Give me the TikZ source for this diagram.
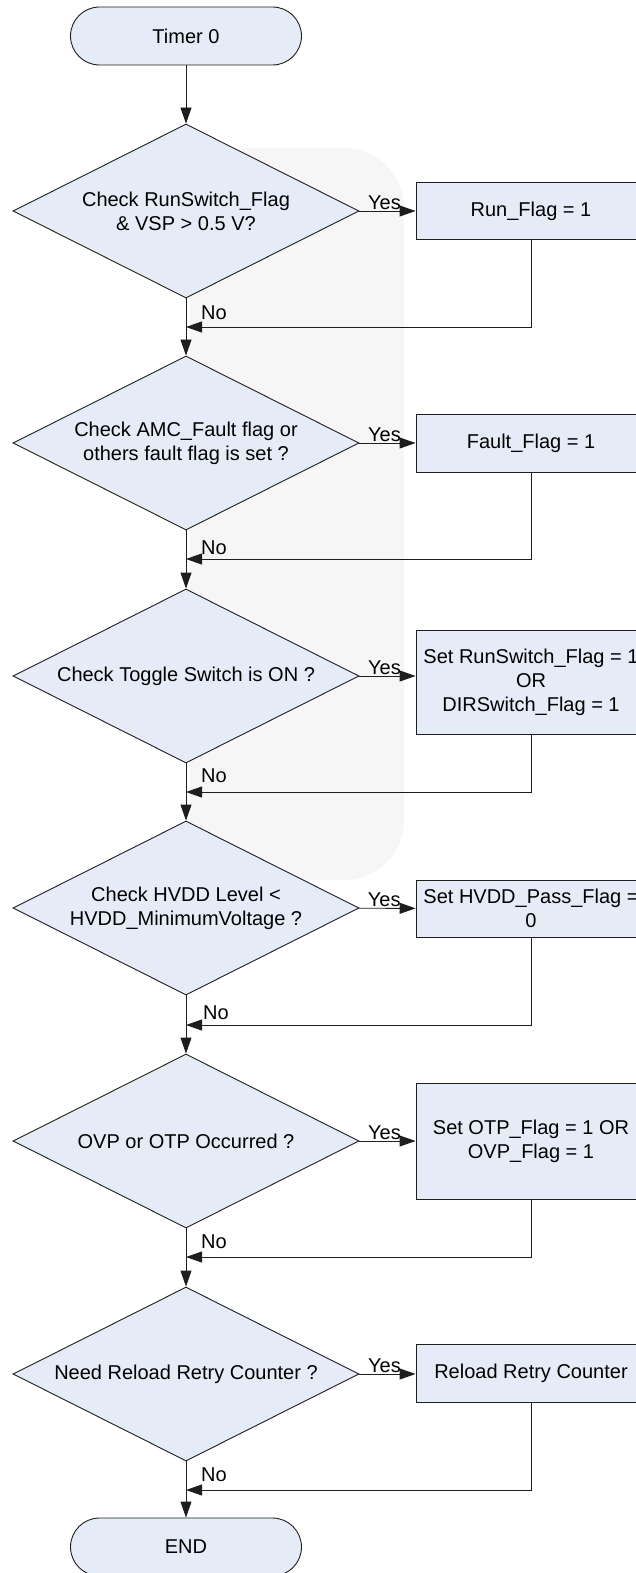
\documentclass[tikz,border=0pt]{standalone}
\usepackage{fontspec}
\setmainfont{Liberation Sans}
\usetikzlibrary{arrows.meta,shapes.geometric}
\definecolor{boxfill}{RGB}{230,236,247}
\definecolor{linec}{RGB}{30,30,30}
\definecolor{wm}{RGB}{246,246,246}
\begin{document}
\begin{tikzpicture}[x=1pt,y=-1pt,
  every node/.style={font=\fontsize{20}{24}\selectfont},
  term/.style={draw=linec, fill=boxfill, rounded corners=29pt, minimum width=231pt, minimum height=58pt, line width=0.9pt},
  decision/.style={draw=linec, fill=boxfill, diamond, aspect=2, minimum width=346pt, minimum height=174pt, inner sep=0pt, align=center, line width=0.9pt},
  process/.style={draw=linec, fill=boxfill, rectangle, minimum width=230pt, align=center, line width=0.9pt},
  flow/.style={draw=linec, line width=0.9pt, -{Triangle[length=16pt,width=11pt]}},
  lbl/.style={inner sep=0pt}
]
\path[use as bounding box] (0,0) rectangle (636,1573);
\clip (0,0) rectangle (636,1573);
\fill[wm, rounded corners=60pt] (190,148) rectangle (404,880);

% nodes
\node[term] (start) at (186,36) {Timer 0};
\node[decision] (d1) at (186,211) {Check RunSwitch\_Flag\\\& VSP > 0.5 V?};
\node[process, minimum height=57pt] (b1) at (531,211) {Run\_Flag = 1};
\node[decision] (d2) at (186,443) {Check AMC\_Fault flag or\\others fault flag is set ?};
\node[process, minimum height=58pt] (b2) at (531,443) {Fault\_Flag = 1};
\node[decision] (d3) at (186,676) {Check Toggle Switch is ON ?};
\node[process, minimum height=104pt] (b3) at (531,682) {Set RunSwitch\_Flag = 1\\OR\\DIRSwitch\_Flag = 1};
\node[decision] (d4) at (186,908) {Check HVDD Level <\\HVDD\_MinimumVoltage ?};
\node[process, minimum height=57pt] (b4) at (531,908.5) {Set HVDD\_Pass\_Flag =\\0};
\node[decision] (d5) at (186,1141) {OVP or OTP Occurred ?};
\node[process, minimum height=116pt] (b5) at (531,1141) {Set OTP\_Flag = 1 OR\\OVP\_Flag = 1};
\node[decision] (d6) at (186,1374) {Need Reload Retry Counter ?};
\node[process, minimum height=58pt] (b6) at (531,1373) {Reload Retry Counter};
\node[term] (end) at (186,1547) {END};

% join points on the main axis
\coordinate (j1) at (186,327);
\coordinate (j2) at (186,559);
\coordinate (j3) at (186,792);
\coordinate (j4) at (186,1025);
\coordinate (j5) at (186,1257);
\coordinate (j6) at (186,1490);

% main axis
\draw[flow] (start) -- (d1);
\draw[flow] (d1) -- (d2);
\draw[flow] (d2) -- (d3);
\draw[flow] (d3) -- (d4);
\draw[flow] (d4) -- (d5);
\draw[flow] (d5) -- (d6);
\draw[flow] (d6) -- (end);

% yes branches
\draw[flow] (d1) -- (b1) node[lbl, midway, above=1pt, xshift=-3pt] {Yes};
\draw[flow] (d2) -- (b2) node[lbl, midway, above=1pt, xshift=-3pt] {Yes};
\draw[flow] (d3) -- (b3.west |- d3) node[lbl, midway, above=1pt, xshift=-3pt] {Yes};
\draw[flow] (d4) -- (b4) node[lbl, midway, above=1pt, xshift=-3pt] {Yes};
\draw[flow] (d5) -- (b5) node[lbl, midway, above=1pt, xshift=-3pt] {Yes};
\draw[flow] (d6) -- (b6.west |- d6) node[lbl, midway, above=1pt, xshift=-3pt] {Yes};

% returns
\draw[flow] (b1) |- (j1);
\draw[flow] (b2) |- (j2);
\draw[flow] (b3) |- (j3);
\draw[flow] (b4) |- (j4);
\draw[flow] (b5) |- (j5);
\draw[flow] (b6) |- (j6);

% No labels
\path (j1) ++(15,-8) node[lbl, anchor=base west] {No};
\path (j2) ++(15,-5) node[lbl, anchor=base west] {No};
\path (j3) ++(15,-10) node[lbl, anchor=base west] {No};
\path (j4) ++(17,-6) node[lbl, anchor=base west] {No};
\path (j5) ++(15,-9) node[lbl, anchor=base west] {No};
\path (j6) ++(15,-9) node[lbl, anchor=base west] {No};
\end{tikzpicture}
\end{document}
